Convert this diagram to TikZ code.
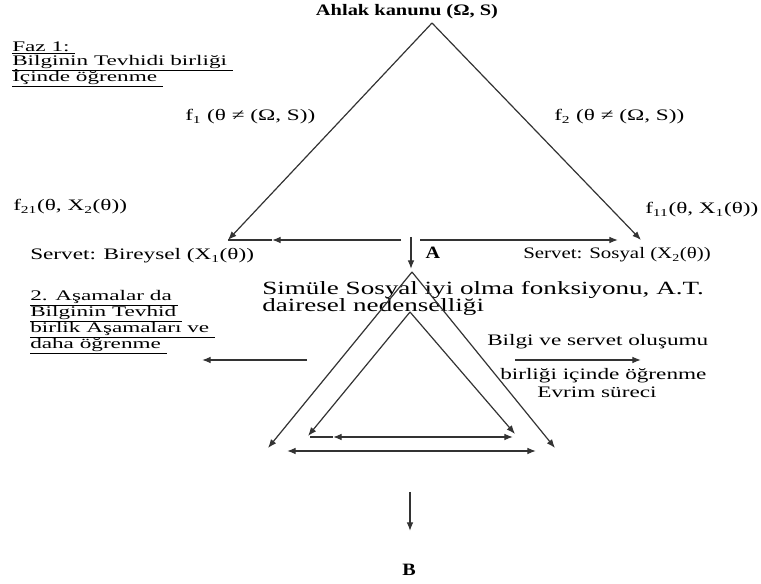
\documentclass[tikz,border=0pt]{standalone}
\usepackage{fontspec}
\setmainfont{Liberation Serif}[FakeStretch=1.45]
\usetikzlibrary{arrows.meta}
\begin{document}
\begin{tikzpicture}[x={(0.75pt,0)},y={(0,-0.75pt)},
  lbl/.style={inner sep=0pt,anchor=west,font=\fontsize{12}{14}\selectfont},
  ulbl/.style={inner sep=0pt,anchor=west,font=\fontsize{11}{12}\selectfont},
  ln/.style={line width=0.9pt,draw=black!80},
  arr/.style={ln,-{Latex[length=6.5pt,width=5pt]}},
  darr/.style={ln,{Latex[length=6.5pt,width=5pt]}-{Latex[length=6.5pt,width=5pt]}}]
\useasboundingbox (0,0) rectangle (761,584);
% texts
\node[inner sep=0pt,font=\fontsize{12}{14}\selectfont\bfseries] (title) at (407,12) {\scalebox{0.88}[1]{Ahlak kanunu (Ω, S)}};
\node[ulbl] (faz1) at (12,48) {\scalebox{1.09}[1]{\underline{Faz 1:\ }}};
\node[ulbl] (faz2) at (12,63) {\scalebox{1.09}[1]{\underline{Bilginin Tevhidi birliği\ }}};
\node[ulbl] (faz3) at (12,78) {\scalebox{1.09}[1]{\underline{İçinde öğrenme\ }}};
\node[lbl] (f1) at (185,117) {f\textsubscript{1} (θ ≠ (Ω, S))};
\node[lbl] (f2) at (554,117) {f\textsubscript{2} (θ ≠ (Ω, S))};
\node[lbl] (f21) at (13,207) {f\textsubscript{21}(θ, X\textsubscript{2}(θ))};
\node[lbl] (f11) at (645,210) {f\textsubscript{11}(θ, X\textsubscript{1}(θ))};
\node[lbl] (sb) at (30,256) {Servet: Bireysel (X\textsubscript{1}(θ))};
\node[lbl] (ss) at (523,255) {\scalebox{0.9}[1]{Servet: Sosyal (X\textsubscript{2}(θ))}};
\node[inner sep=0pt,font=\fontsize{13}{14}\selectfont\bfseries] (A) at (433,253) {\scalebox{0.8}[1]{A}};
\node[lbl,font=\fontsize{14}{16}\selectfont] (sim1) at (262,290) {Simüle Sosyal iyi olma fonksiyonu, A.T.};
\node[lbl,font=\fontsize{14}{16}\selectfont] (sim2) at (262,307) {dairesel nedenselliği};
\node[ulbl] (as1) at (30,298) {\scalebox{1.09}[1]{\underline{2. Aşamalar da\ }}};
\node[ulbl] (as2) at (30,314) {\scalebox{1.09}[1]{\underline{Bilginin Tevhid\ }}};
\node[ulbl] (as3) at (30,330) {\scalebox{1.09}[1]{\underline{birlik Aşamaları ve\ }}};
\node[ulbl] (as4) at (30,346) {\scalebox{1.09}[1]{\underline{daha öğrenme\ }}};
\node[lbl] (bv) at (487,342) {Bilgi ve servet oluşumu};
\node[lbl] (bi) at (500,376) {birliği içinde öğrenme};
\node[inner sep=0pt,font=\fontsize{12}{14}\selectfont] (ev) at (597,392) {Evrim süreci};
\node[inner sep=0pt,font=\fontsize{13}{14}\selectfont\bfseries] (B) at (409,570) {\scalebox{0.8}[1]{B}};
% coordinates
\coordinate (apex) at (432,23);
\coordinate (L) at (228,240);
\coordinate (R) at (641,240);
\coordinate (hl0) at (401,240);
\coordinate (hl1) at (272,240);
\coordinate (hr0) at (420,240);
\coordinate (hr1) at (618,240);
\coordinate (v0) at (411,237);
\coordinate (v1) at (411,269);
\coordinate (oa) at (412,272);
\coordinate (oL) at (268,448);
\coordinate (oR) at (555,448);
\coordinate (ia) at (410,312);
\coordinate (iL) at (308,436);
\coordinate (iR) at (515,434);
\coordinate (ih0) at (310,437);
\coordinate (ih1) at (333,437);
\coordinate (ih2) at (513,437);
\coordinate (oh0) at (287,451);
\coordinate (oh1) at (536,451);
\coordinate (la0) at (307,360);
\coordinate (la1) at (202,360);
\coordinate (ra0) at (515,360);
\coordinate (ra1) at (641,360);
\coordinate (b0) at (410,492);
\coordinate (b1) at (410,531);
% connectors
\draw[arr] (apex) -- (L);
\draw[arr] (apex) -- (R);
\draw[arr] (hl0) -- (hl1);
\draw[ln] (hl1) -- (L);
\draw[arr] (hr0) -- (hr1);
\draw[arr] (v0) -- (v1);
\draw[arr] (oa) -- (oL);
\draw[arr] (oa) -- (oR);
\draw[arr] (ia) -- (iL);
\draw[arr] (ia) -- (iR);
\draw[ln] (ih0) -- (ih1);
\draw[darr] (ih1) -- (ih2);
\draw[darr] (oh0) -- (oh1);
\draw[arr] (la0) -- (la1);
\draw[arr] (ra0) -- (ra1);
\draw[arr] (b0) -- (b1);
\end{tikzpicture}
\end{document}
